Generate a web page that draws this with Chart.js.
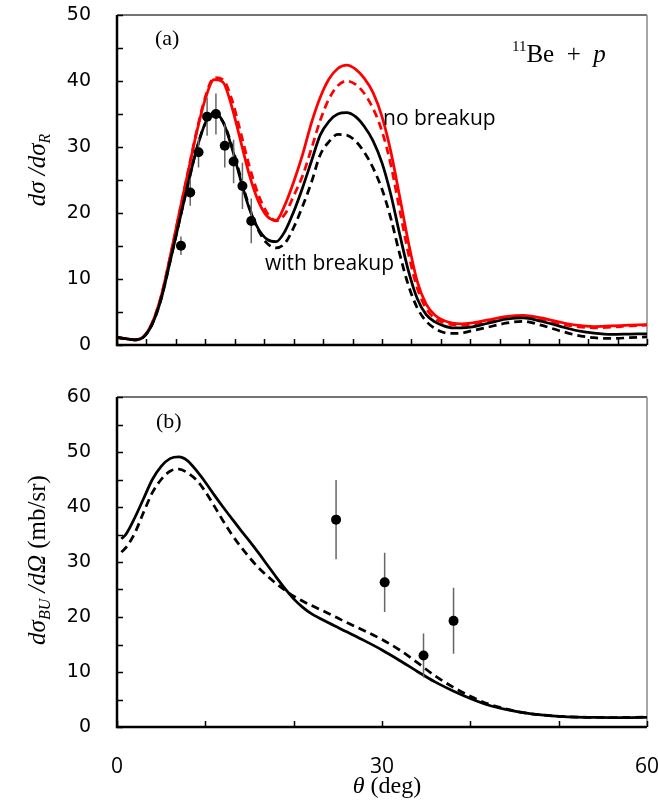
<!DOCTYPE html>
<html>
<head>
<meta charset="utf-8">
<script src="https://cdn.jsdelivr.net/npm/chart.js@4.4.1/dist/chart.umd.min.js"></script>
<style>
  html, body { margin: 0; padding: 0; background: #fff; }
  #wrap { position: relative; width: 658px; height: 805px; }
  #top-box { position: absolute; left: 0; top: 0; width: 658px; height: 370px; }
  #bot-box { position: absolute; left: 0; top: 370px; width: 658px; height: 435px; }
</style>
</head>
<body>
<div id="wrap">
  <div id="top-box"><canvas id="top-chart" width="658" height="370"></canvas></div>
  <div id="bot-box"><canvas id="bot-chart" width="658" height="435"></canvas></div>
</div>
<script>
// ---- panel (a): elastic d(sigma)/d(sigma_R) ----
const thetaTop = [0, 1, 2, 3, 4, 5, 6, 7, 8, 9, 10, 11, 12, 13, 14, 15, 16, 17, 18, 19, 20,
  21, 22, 23, 24, 25, 26, 27, 28, 29, 30, 31, 32, 33, 34, 35, 36, 37, 38, 39, 40,
  42, 44, 46, 48, 50, 52, 54, 56, 58, 60];
const noBreakupSolid = [1.15, 0.95, 0.78, 1.26, 3.4, 7.4, 13.3, 19.7, 25.9, 32.1, 37.3, 40.2, 39.8, 36.1, 30.9, 25.7, 21.8, 19.5, 18.9, 21.2, 24.7,
  28.8, 33.6, 37.5, 40.3, 41.9, 42.4, 41.8, 40.4, 38.2, 34.6, 29.3, 22.5, 15.5, 9.6, 6.2, 4.5, 3.7, 3.3, 3.2, 3.3,
  3.8, 4.3, 4.5, 4.1, 3.5, 3.0, 2.8, 2.9, 3.0, 3.1];
const noBreakupDashed = [1.15, 0.95, 0.78, 1.26, 3.4, 7.4, 13.2, 19.6, 26.0, 32.3, 37.6, 40.5, 40.2, 37.2, 32.2, 27.0, 22.8, 20.0, 18.8, 19.8, 22.6,
  25.6, 29.7, 34.0, 37.3, 39.3, 40.0, 39.5, 38.1, 35.8, 32.4, 27.3, 20.5, 13.8, 8.6, 5.5, 4.0, 3.4, 3.1, 3.0, 3.1,
  3.6, 4.0, 4.2, 3.8, 3.2, 2.8, 2.6, 2.7, 2.9, 3.0];
const withBreakupSolid = [1.15, 0.95, 0.78, 1.2, 3.2, 7.0, 12.6, 18.4, 24.2, 29.6, 33.6, 35.2, 33.8, 29.9, 25.0, 20.6, 17.6, 16.0, 15.65, 17.2, 20.2,
  23.8, 27.8, 31.8, 33.9, 35.0, 35.2, 34.6, 33.1, 30.9, 27.6, 22.8, 16.8, 11.2, 7.0, 4.6, 3.5, 2.9, 2.6, 2.6, 2.7,
  3.3, 3.9, 4.1, 3.6, 2.9, 2.2, 1.8, 1.6, 1.65, 1.7];
const withBreakupDashed = [1.15, 0.95, 0.78, 1.2, 3.2, 7.0, 12.6, 18.4, 24.2, 29.6, 33.6, 35.0, 33.8, 30.2, 25.4, 20.8, 17.4, 15.4, 14.7, 15.4, 17.8,
  21.0, 24.6, 28.8, 30.8, 31.9, 31.8, 30.9, 29.2, 26.8, 23.6, 19.2, 13.8, 9.0, 5.6, 3.6, 2.5, 1.9, 1.75, 1.8, 2.1,
  2.7, 3.3, 3.6, 3.0, 2.2, 1.5, 1.1, 1.0, 1.1, 1.25];
const expTheta = [7.24, 8.29, 9.23, 10.2, 11.2, 12.2, 13.2, 14.2, 15.2];
const expValue = [15.05, 23.1, 29.2, 34.6, 35.0, 30.2, 27.8, 24.1, 18.8];
const expError = [1.4, 2.0, 2.3, 2.9, 3.1, 3.3, 3.3, 3.5, 3.4];

// ---- panel (b): breakup cross section ----
const thetaBu = [0.5, 1, 2, 3, 4, 5, 6, 7, 8, 9, 10, 11, 12, 13, 14, 15, 16, 17, 18, 19, 20,
  21, 22, 24, 26, 28, 30, 32, 34, 36, 38, 40, 42, 44, 46, 48, 50, 52, 54, 56, 58, 60];
const buSolid = [34.2, 35.0, 38.0, 41.5, 45.0, 47.4, 48.8, 49.1, 48.4, 46.6, 44.5, 42.2, 40.0, 37.9, 35.8, 33.8, 31.7, 29.5, 27.3, 25.2, 23.3,
  21.8, 20.6, 18.9, 17.3, 15.7, 14.0, 12.1, 10.1, 8.2, 6.6, 5.2, 4.0, 3.2, 2.6, 2.2, 1.95, 1.8, 1.75, 1.7, 1.7, 1.75];
const buDashed = [31.8, 32.6, 35.2, 39.0, 42.6, 45.0, 46.5, 46.9, 46.2, 44.9, 42.8, 40.2, 37.5, 35.0, 32.8, 30.8, 29.0, 27.5, 26.1, 24.9, 23.8,
  22.9, 22.1, 20.6, 19.0, 17.5, 15.9, 14.0, 11.7, 9.3, 7.3, 5.6, 4.2, 3.3, 2.6, 2.2, 1.95, 1.8, 1.75, 1.7, 1.75, 1.8];
const buExpTheta = [24.8, 30.3, 34.7, 38.1];
const buExpValue = [37.7, 26.3, 13.0, 19.3];
const buExpError = [7.2, 5.4, 4.0, 6.0];

const bottomXLabels = [0, 30, 60];
const RED = '#ff0000';

function toPoints(xs, ys) {
    return xs.map((x, i) => ({ x: x, y: ys[i] }));
}

function curve(xs, ys, color, dashed) {
    return {
        data: toPoints(xs, ys),
        borderColor: color,
        borderWidth: 2.75,
        borderDash: dashed ? [8, 5] : [],
        pointRadius: 0,
        cubicInterpolationMode: 'monotone',
        fill: false,
        order: 2
    };
}

function dataPoints(xs, ys, errs) {
    return {
        type: 'scatter',
        data: toPoints(xs, ys),
        errors: errs,
        pointRadius: 5,
        pointBackgroundColor: '#000',
        pointBorderColor: '#000',
        pointBorderWidth: 0,
        order: 0
    };
}

// Draw text made of several runs (italic letters, subscripts ...)
function drawRich(ctx, parts, x, y, align, angle) {
    ctx.save();
    ctx.translate(x, y);
    ctx.rotate(angle || 0);
    ctx.textAlign = 'left';
    ctx.textBaseline = 'alphabetic';
    let w = 0;
    parts.forEach(p => { ctx.font = p.font; w += ctx.measureText(p.t).width; });
    let cx = align === 'center' ? -w / 2 : 0;
    parts.forEach(p => {
        ctx.font = p.font;
        ctx.fillStyle = p.color || '#000';
        ctx.fillText(p.t, cx, p.dy || 0);
        cx += ctx.measureText(p.t).width;
    });
    ctx.restore();
}

// Frame with inward ticks
const framePlugin = {
    id: 'frame',
    beforeDatasetsDraw(chart) {
        const { ctx, chartArea: a, scales } = chart;
        ctx.save();
        ctx.strokeStyle = '#444';
        ctx.lineWidth = 1.5;
        ctx.beginPath();
        ctx.moveTo(a.left, a.top);
        ctx.lineTo(a.right, a.top);
        ctx.stroke();
        ctx.strokeStyle = '#888';
        ctx.beginPath();
        ctx.moveTo(a.right, a.top);
        ctx.lineTo(a.right, a.bottom);
        ctx.stroke();

        ctx.strokeStyle = '#000';
        ctx.lineWidth = 1.5;
        ctx.beginPath();
        scales.x.ticks.forEach(t => {
            const px = Math.round(scales.x.getPixelForValue(t.value)) + 0.5;
            ctx.moveTo(px, a.bottom);
            ctx.lineTo(px, a.bottom - 6);
        });
        scales.y.ticks.forEach(t => {
            const py = Math.round(scales.y.getPixelForValue(t.value)) + 0.5;
            ctx.moveTo(a.left, py);
            ctx.lineTo(a.left + 6, py);
        });
        ctx.stroke();

        ctx.lineWidth = 2.5;
        ctx.beginPath();
        ctx.moveTo(a.left, a.top);
        ctx.lineTo(a.left, a.bottom);
        ctx.lineTo(a.right, a.bottom);
        ctx.stroke();
        ctx.restore();
    }
};

// Vertical error bars under the data markers
const errorBarPlugin = {
    id: 'errorBars',
    beforeDatasetDraw(chart, args) {
        const ds = chart.data.datasets[args.index];
        if (!ds.errors) return;
        const { ctx, scales } = chart;
        ctx.save();
        ctx.strokeStyle = '#666';
        ctx.lineWidth = 1.5;
        ctx.beginPath();
        ds.data.forEach((p, i) => {
            const px = scales.x.getPixelForValue(p.x);
            ctx.moveTo(px, scales.y.getPixelForValue(p.y + ds.errors[i]));
            ctx.lineTo(px, scales.y.getPixelForValue(p.y - ds.errors[i]));
        });
        ctx.stroke();
        ctx.restore();
    }
};

function notesPlugin(notes) {
    return {
        id: 'notes',
        afterDraw(chart) {
            notes.forEach(n => drawRich(chart.ctx, n.parts, n.x, n.y, n.align, n.angle));
        }
    };
}

const SERIF = '"Liberation Serif", "DejaVu Serif", serif';
const SANS = '"Open Sans", "DejaVu Sans", sans-serif';

// keep tick labels from pushing the plot area around
function noOverflow(s) {
    s.paddingTop = 0;
    s.paddingBottom = 0;
    s.paddingLeft = 0;
    s.paddingRight = 0;
}

function baseOptions(yMax, xHeight, padTop, xTicks) {
    return {
        responsive: false,
        animation: false,
        layout: { padding: { left: 0, right: 11, top: padTop, bottom: 0 } },
        plugins: { legend: { display: false }, tooltip: { enabled: false } },
        scales: {
            x: Object.assign({
                type: 'linear',
                min: 0,
                max: 60,
                grid: { display: false },
                border: { display: false },
                afterFit: s => { s.height = xHeight; noOverflow(s); }
            }, xTicks),
            y: {
                min: 0,
                max: yMax,
                grid: { display: false },
                border: { display: false },
                ticks: {
                    stepSize: 5,
                    autoSkip: false,
                    padding: 18,
                    color: '#000',
                    font: { family: '"DejaVu Sans", sans-serif', size: 19 },
                    callback: v => (v % 10 === 0 ? String(v) : '')
                },
                afterFit: s => { s.width = 117; noOverflow(s); }
            }
        }
    };
}

// top panel
const topTicks = Array.from({ length: 19 }, (_, i) => i * 60 / 18);
const topChart = new Chart(document.getElementById('top-chart'), {
    type: 'line',
    data: {
        datasets: [
            dataPoints(expTheta, expValue, expError),
            curve(thetaTop, withBreakupDashed, '#000', true),
            curve(thetaTop, withBreakupSolid, '#000', false),
            curve(thetaTop, noBreakupDashed, RED, true),
            curve(thetaTop, noBreakupSolid, RED, false)
        ]
    },
    options: baseOptions(50, 25, 15, {
        ticks: { display: false },
        afterBuildTicks: s => { s.ticks = topTicks.map(v => ({ value: v })); }
    }),
    plugins: [framePlugin, errorBarPlugin, notesPlugin([
        { x: 155, y: 45, parts: [{ t: '(a)', font: '22px ' + SERIF }] },
        { x: 512, y: 62, parts: [
            { t: '11', font: '15px ' + SERIF, dy: -11 },
            { t: 'Be\u2002+\u2002', font: '25px ' + SERIF },
            { t: 'p', font: 'italic 25px ' + SERIF }
        ] },
        { x: 383, y: 125, parts: [{ t: 'no breakup', font: '21px ' + SANS }] },
        { x: 265, y: 270, parts: [{ t: 'with breakup', font: '21px ' + SANS }] },
        { x: 45, y: 170, align: 'center', angle: -Math.PI / 2, parts: [
            { t: 'd\u03c3 /d\u03c3', font: 'italic 25px ' + SERIF },
            { t: 'R', font: 'italic 16px ' + SERIF, dy: 5 }
        ] }
    ])]
});

// bottom panel
const botChart = new Chart(document.getElementById('bot-chart'), {
    type: 'line',
    data: {
        datasets: [
            dataPoints(buExpTheta, buExpValue, buExpError),
            curve(thetaBu, buDashed, '#000', true),
            curve(thetaBu, buSolid, '#000', false)
        ]
    },
    options: baseOptions(60, 78, 27, {
        ticks: {
            stepSize: 10,
            autoSkip: false,
            maxRotation: 0,
            padding: 19,
            color: '#000',
            font: { family: SANS, size: 21 },
            callback: v => (bottomXLabels.includes(v) ? String(v) : '')
        }
    }),
    plugins: [framePlugin, errorBarPlugin, notesPlugin([
        { x: 156, y: 58, parts: [{ t: '(b)', font: '22px ' + SERIF }] },
        { x: 387, y: 423, align: 'center', parts: [
            { t: '\u03b8', font: 'italic 24px ' + SERIF },
            { t: ' (deg)', font: '24px ' + SERIF }
        ] },
        { x: 45, y: 190, align: 'center', angle: -Math.PI / 2, parts: [
            { t: 'd\u03c3', font: 'italic 25px ' + SERIF },
            { t: 'BU', font: 'italic 16px ' + SERIF, dy: 5 },
            { t: ' /d\u03a9 ', font: 'italic 25px ' + SERIF },
            { t: '(mb/sr)', font: '25px ' + SERIF }
        ] }
    ])]
});
</script>
</body>
</html>
